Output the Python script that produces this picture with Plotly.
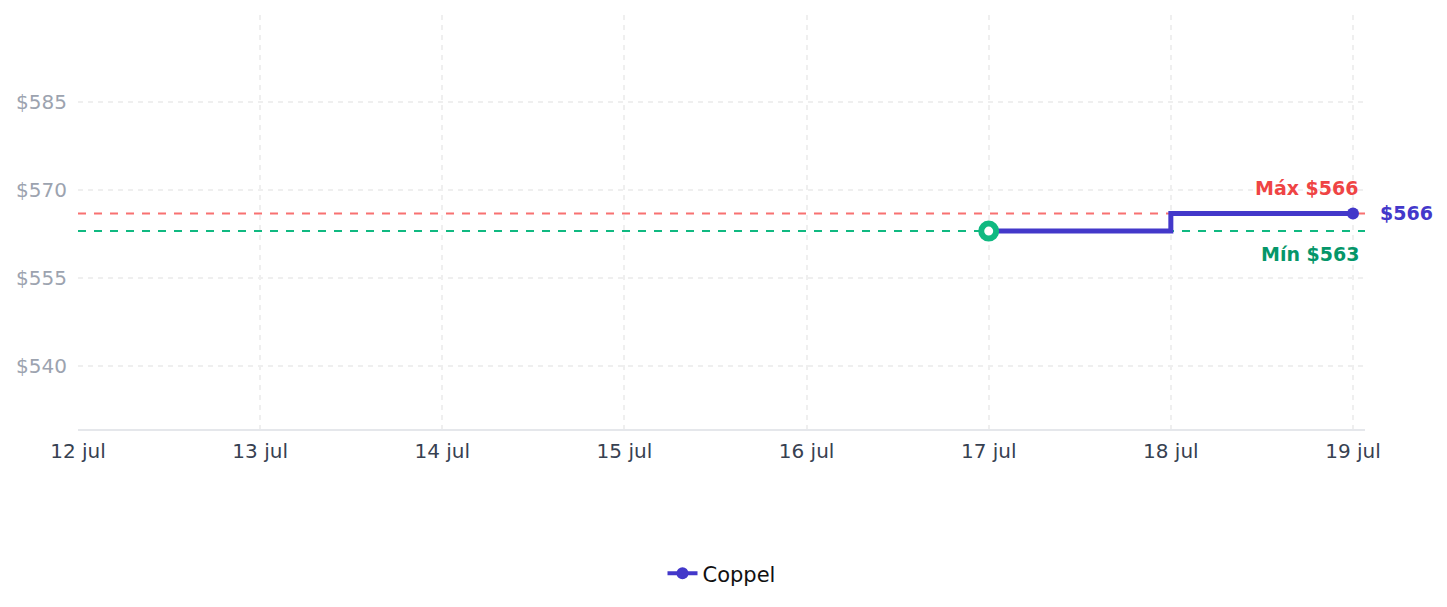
import plotly.graph_objects as go

dates = ["2024-07-17", "2024-07-18", "2024-07-19"]
prices = [563, 566, 566]
max_price = 566
min_price = 563
y_ticks = [540, 555, 570, 585]
x_ticks = ["2024-07-12", "2024-07-13", "2024-07-14", "2024-07-15", "2024-07-16", "2024-07-17", "2024-07-18", "2024-07-19"]
x_labels = ["12 jul", "13 jul", "14 jul", "15 jul", "16 jul", "17 jul", "18 jul", "19 jul"]

INDIGO = "#4338ca"
RED_LINE = "#f87171"
RED_TXT = "#ef4444"
GREEN_LINE = "#10b981"
GREEN_TXT = "#059669"
FONT = "DejaVu Sans"
X_END = "2024-07-19 01:35"

fig = go.Figure()

# reference lines
fig.add_trace(go.Scatter(x=[x_ticks[0], X_END], y=[max_price, max_price], mode="lines",
                         line=dict(color=RED_LINE, width=2, dash="8px,8px"), showlegend=False, hoverinfo="skip"))
fig.add_trace(go.Scatter(x=[x_ticks[0], X_END], y=[min_price, min_price], mode="lines",
                         line=dict(color=GREEN_LINE, width=2, dash="8px,8px"), showlegend=False, hoverinfo="skip"))

# main step line
fig.add_trace(go.Scatter(x=dates, y=prices, mode="lines", line=dict(color=INDIGO, width=5, shape="hv"),
                         showlegend=False))
# start marker
fig.add_trace(go.Scatter(x=[dates[0]], y=[prices[0]], mode="markers",
                         marker=dict(size=15, color="white", line=dict(color=GREEN_LINE, width=6)),
                         showlegend=False))
# end marker
fig.add_trace(go.Scatter(x=[dates[-1]], y=[prices[-1]], mode="markers",
                         marker=dict(size=12, color=INDIGO), showlegend=False))
# legend entry
fig.add_trace(go.Scatter(x=[None], y=[None], mode="lines+markers", name="Coppel",
                         line=dict(color=INDIGO, width=4), marker=dict(size=12, color=INDIGO)))

fig.add_annotation(x=dates[-1], y=max_price, text="<b>Máx $566</b>", showarrow=False,
                   xanchor="right", yanchor="bottom", xshift=7, yshift=12,
                   font=dict(family=FONT, size=19, color=RED_TXT))
fig.add_annotation(x=dates[-1], y=min_price, text="<b>Mín $563</b>", showarrow=False,
                   xanchor="right", yanchor="top", xshift=8, yshift=-10,
                   font=dict(family=FONT, size=19, color=GREEN_TXT))
fig.add_annotation(x=dates[-1], y=prices[-1], text="<b>$566</b>", showarrow=False,
                   xanchor="left", yanchor="middle", xshift=25,
                   font=dict(family=FONT, size=19, color=INDIGO))

fig.update_layout(
    width=1447, height=607,
    margin=dict(l=78, r=82, t=15, b=178),
    paper_bgcolor="white", plot_bgcolor="white",
    font=dict(family=FONT),
    showlegend=True,
    legend=dict(orientation="h", x=0.5, xanchor="center", y=-0.3, yanchor="top",
                font=dict(family=FONT, size=21, color="#111111")),
    xaxis=dict(range=["2024-07-12", X_END], tickvals=x_ticks, ticktext=x_labels,
               showgrid=True, gridcolor="#efefef", griddash="5px,5px", gridwidth=1.5,
               showline=True, linecolor="#e5e7eb", linewidth=2, zeroline=False,
               tickfont=dict(family=FONT, size=20, color="#374151"), ticks="", ticklabelstandoff=3),
    yaxis=dict(range=[529.3, 599.8], tickvals=y_ticks, ticktext=["$%d" % v for v in y_ticks],
               showgrid=True, gridcolor="#efefef", griddash="5px,5px", gridwidth=1.5,
               showline=False, zeroline=False,
               tickfont=dict(family=FONT, size=20, color="#9ca3af"), ticks="", ticklabelstandoff=10),
)

fig.write_html("out.html")
